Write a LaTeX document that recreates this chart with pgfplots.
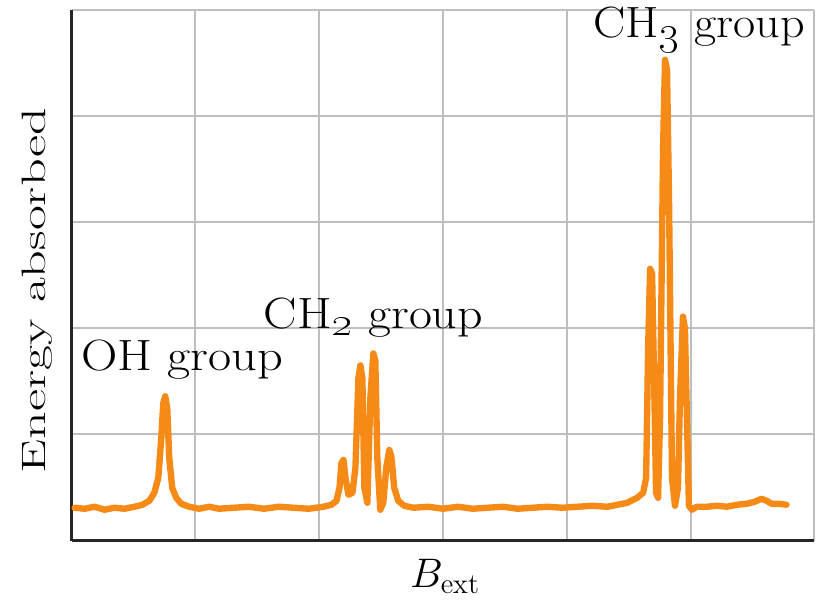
\documentclass[border=0pt]{standalone}
\usepackage{pgfplots}
\pgfplotsset{compat=1.18}
\definecolor{nmrorange}{RGB}{246,138,22}
\definecolor{gridgray}{RGB}{190,190,190}

\begin{document}
\begin{tikzpicture}
\begin{axis}[
  scale only axis,
  width=373pt, height=266.5pt,
  xmin=0, xmax=746, ymin=0, ymax=533,
  xtick={0,124.33,248.67,373,497.33,621.67,746},
  ytick={0,106.6,213.2,319.8,426.4,533},
  xticklabels={}, yticklabels={},
  major tick length=0pt,
  grid=major,
  major grid style={gridgray, line width=1pt},
  axis x line*=bottom, axis y line*=left,
  axis line style={black!85, line width=1.5pt, -},
  clip=false,
]
\addplot[nmrorange, line width=3.2pt, line join=round, line cap=round] coordinates {
(3,33) (13,32) (23,34) (33,31) (43,33) (53,32) (63,34) (71,36) (78,40) (83,48)
(87,63) (90,103) (92,138) (94,145) (96,133) (98,83) (101,53) (105,43) (110,37)
(118,34) (128,32) (138,34) (148,32) (163,33) (178,34) (193,32) (208,34) (223,33)
(238,32) (253,34) (261,36) (266,40) (269,53) (271,78) (273,81) (275,63) (278,46)
(282,48) (285,73) (288,163) (290,176) (292,163) (294,53) (297,38) (300,143)
(303,188) (305,181) (307,83) (310,31) (313,38) (316,73) (319,91) (321,85)
(324,53) (328,40) (334,35) (343,33) (358,34) (373,32) (388,34) (403,32) (418,33)
(433,34) (448,32) (463,33) (478,34) (493,33) (508,34) (523,35) (538,34) (548,36)
(558,38) (568,43) (574,48) (577,63) (579,193) (581,273) (583,268) (585,163)
(587,48) (589,43) (591,123) (594,393) (596,483) (598,473) (600,343) (603,63)
(606,35) (609,53) (611,143) (614,225) (616,213) (618,123) (620,35) (623,31)
(628,34) (638,34) (648,35) (658,34) (668,36) (678,37) (686,39) (693,42) (698,40)
(703,37) (710,37) (718,36)
};
\node[anchor=base, font=\fontsize{22}{26}\selectfont] at (axis cs:111,171)
  {\scalebox{1.15}[1]{OH group}};
\node[anchor=base, font=\fontsize{22}{26}\selectfont] at (axis cs:303,213)
  {\scalebox{1.14}[1]{CH\raisebox{-0.35ex}{\oldstylenums{2}} group}};
\node[anchor=base, font=\fontsize{22}{26}\selectfont] at (axis cs:630,505)
  {\scalebox{1.1}[1]{CH\raisebox{-0.35ex}{\oldstylenums{3}} group}};
\node[anchor=base, font=\fontsize{21}{25}\selectfont] at (axis cs:375,-47) {$B_{\mathrm{ext}}$};
\node[anchor=base, rotate=90, font=\fontsize{17}{20}\selectfont] at (axis cs:-26,251)
  {\scalebox{1.6}[1]{Energy absorbed}};
\path (axis cs:-72,-69) rectangle (axis cs:749,543);
\end{axis}
\end{tikzpicture}
\end{document}
